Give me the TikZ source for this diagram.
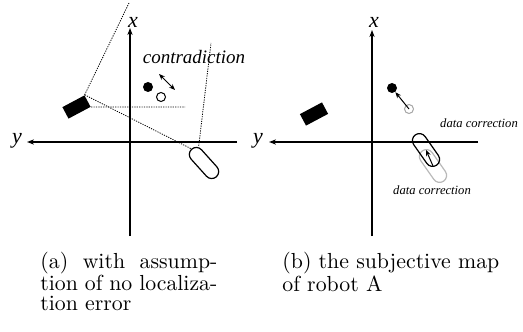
\documentclass[tikz,border=0pt]{standalone}
\usepackage{fontspec}
\newfontfamily\timesfont{Liberation Serif}
\usetikzlibrary{arrows.meta, positioning}
\tikzset{
  axisline/.style={draw=black, line width=0.6pt, -{Stealth[length=3.5pt, width=2.6pt]}},
  axislabel/.style={font=\timesfont\itshape\fontsize{11}{11}\selectfont, inner sep=0pt},
  sight/.style={draw=black, line width=0.4pt, dash pattern=on 0.6pt off 0.6pt},
  landmark/.style={rectangle, fill=black, minimum width=12.5pt, minimum height=6.5pt,
                   inner sep=0pt, rotate=28},
  robot/.style={rectangle, draw=black, line width=0.6pt, rounded corners=3.5pt,
                minimum width=18.5pt, minimum height=7pt, inner sep=0pt},
  feature/.style={circle, fill=black, minimum size=5pt, inner sep=0pt},
  hollow/.style={circle, draw=black, line width=0.5pt, minimum size=4.5pt, inner sep=0pt},
  note/.style={font=\timesfont\itshape\fontsize{9.5}{10}\selectfont, inner sep=0pt},
  smallnote/.style={font=\timesfont\itshape\fontsize{6.3}{7}\selectfont, inner sep=0pt},
  capt/.style={font=\fontsize{10.9}{9.6}\selectfont, inner sep=0pt, anchor=base west},
}

\begin{document}
\begin{tikzpicture}[
  x=0.5pt, y=-0.5pt,
  pointer/.style={draw=black, line width=0.5pt, -{Stealth[length=3pt, width=2.4pt]}},
  twoway/.style={draw=black, line width=0.5pt, {Stealth[length=3pt, width=2.4pt]}-{Stealth[length=3pt, width=2.4pt]}},
]
  \useasboundingbox (0,0) rectangle (523,331);

  % (a) no localization error
  \coordinate (ax0) at (130,236);
  \coordinate (ax1) at (130,28);
  \coordinate (ay0) at (237,142);
  \coordinate (ay1) at (27,142);
  \draw[axisline] (ax0) -- (ax1);
  \draw[axisline] (ay0) -- (ay1);
  \node[axislabel] (axl) at (133,22) {x};
  \node[axislabel] (ayl) at (17,141) {y};

  \node[landmark] (alm) at (76.5,107) {};
  \node[robot, rotate=-48] (arb) at (204,163) {};
  \node[feature] (afc) at (148,87) {};
  \node[hollow] (aoc) at (161,97) {};

  \coordinate (atop) at (129,3);
  \coordinate (ahz) at (185,107);
  \coordinate (aup) at (211,43);
  \draw[sight] (alm.north east) -- (atop);
  \draw[sight] (alm.south east) -- (ahz);
  \draw[sight] (alm.north east) -- (arb.west);
  \draw[sight] (arb.155) -- (aup);

  \coordinate (ad0) at (159,74);
  \coordinate (ad1) at (175,90);
  \draw[twoway] (ad0) -- (ad1);
  \node[note] (acon) at (194,57) {contradiction};

  % (b) subjective map
  \coordinate (bx0) at (372,236);
  \coordinate (bx1) at (372,30);
  \coordinate (by0) at (478,142);
  \coordinate (by1) at (269,142);
  \draw[axisline] (bx0) -- (bx1);
  \draw[axisline] (by0) -- (by1);
  \node[axislabel] (bxl) at (374,22) {x};
  \node[axislabel] (byl) at (258,141) {y};

  \node[landmark] (blm) at (314,114) {};
  \node[feature] (bfc) at (392,88) {};
  \node[hollow, draw=gray!70] (boc) at (409,109) {};
  \node[robot, draw=gray!55, rotate=-55] (bgr) at (433,166) {};
  \node[robot, rotate=-55] (brb) at (426,150) {};
  \draw[pointer] (boc.center) -- (bfc);
  \draw[pointer] (bgr.center) -- (brb.center);

  \node[smallnote] (bdc1) at (479,123) {data correction};
  \node[smallnote] (bdc2) at (432,190) {data correction};

  % captions
  \node[capt, text width=88.5pt, align=justify] (capa) at (40,268)
    {(a) with assump-\linebreak tion of no localiza-\linebreak tion error};
  \node[capt, text width=120pt, align=left] (capb) at (282,268)
    {(b) the subjective map\\of robot A};
\end{tikzpicture}
\end{document}
